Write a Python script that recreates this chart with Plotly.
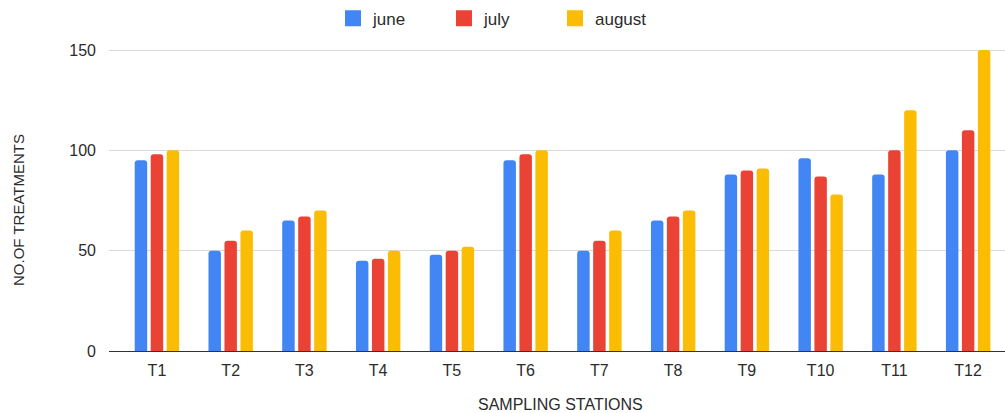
import plotly.graph_objects as go

# Treatment counts per sampling station, by month
stations = ["T1", "T2", "T3", "T4", "T5", "T6", "T7", "T8", "T9", "T10", "T11", "T12"]
june = [95, 50, 65, 45, 48, 95, 50, 65, 88, 96, 88, 100]
july = [98, 55, 67, 46, 50, 98, 55, 67, 90, 87, 100, 110]
august = [100, 60, 70, 50, 52, 100, 60, 70, 91, 78, 120, 150]

y_ticks = [0, 50, 100, 150]

series = [
    ("june", june, "#4285F4"),
    ("july", july, "#EA4335"),
    ("august", august, "#FBBC04"),
]

FONT = "Liberation Sans, Arial, sans-serif"
TEXT = "#2b2b2b"

fig = go.Figure()
for name, values, color in series:
    fig.add_trace(go.Bar(
        x=stations, y=values, name=name,
        marker=dict(color=color, line=dict(width=0)),
        showlegend=False,
    ))
    # square legend swatch
    fig.add_trace(go.Scatter(
        x=[None], y=[None], mode="markers", name=name,
        marker=dict(symbol="square", size=16, color=color),
        showlegend=True,
    ))

fig.update_layout(
    width=1005, height=413,
    margin=dict(l=109, r=0, t=46, b=62),
    paper_bgcolor="white", plot_bgcolor="white",
    barmode="group", bargap=0.35, bargroupgap=0.22, barcornerradius=3,
    font=dict(family=FONT, size=16, color=TEXT),
    legend=dict(
        orientation="h", xref="container", yref="container",
        x=0.497, xanchor="center", y=0.955, yanchor="middle",
        font=dict(size=17, color=TEXT), entrywidth=66,
        bgcolor="rgba(0,0,0,0)",
    ),
    xaxis=dict(
        type="category", range=[-0.65, 11.5],
        showgrid=False, showline=True, linecolor="#333333", linewidth=1,
        ticks="", ticklabelstandoff=5,
        tickfont=dict(size=16, color=TEXT),
    ),
    yaxis=dict(
        range=[0, 152], tickvals=y_ticks,
        showgrid=True, gridcolor="#d9d9d9", gridwidth=1,
        zeroline=False, showline=False, ticks="", ticklabelstandoff=12,
        tickfont=dict(size=16, color=TEXT),
    ),
    annotations=[
        dict(text="SAMPLING STATIONS", xref="paper", yref="paper",
             x=(560 - 109) / 896, y=-(404 - 351) / 305,
             xanchor="center", yanchor="middle", showarrow=False,
             font=dict(size=16, color=TEXT)),
        dict(text="NO.OF TREATMENTS", xref="paper", yref="paper",
             x=-(109 - 18) / 896, y=(351 - 210) / 305,
             xanchor="center", yanchor="middle", showarrow=False,
             textangle=-90, font=dict(size=15, color=TEXT)),
    ],
)

fig.write_html("out.html")
